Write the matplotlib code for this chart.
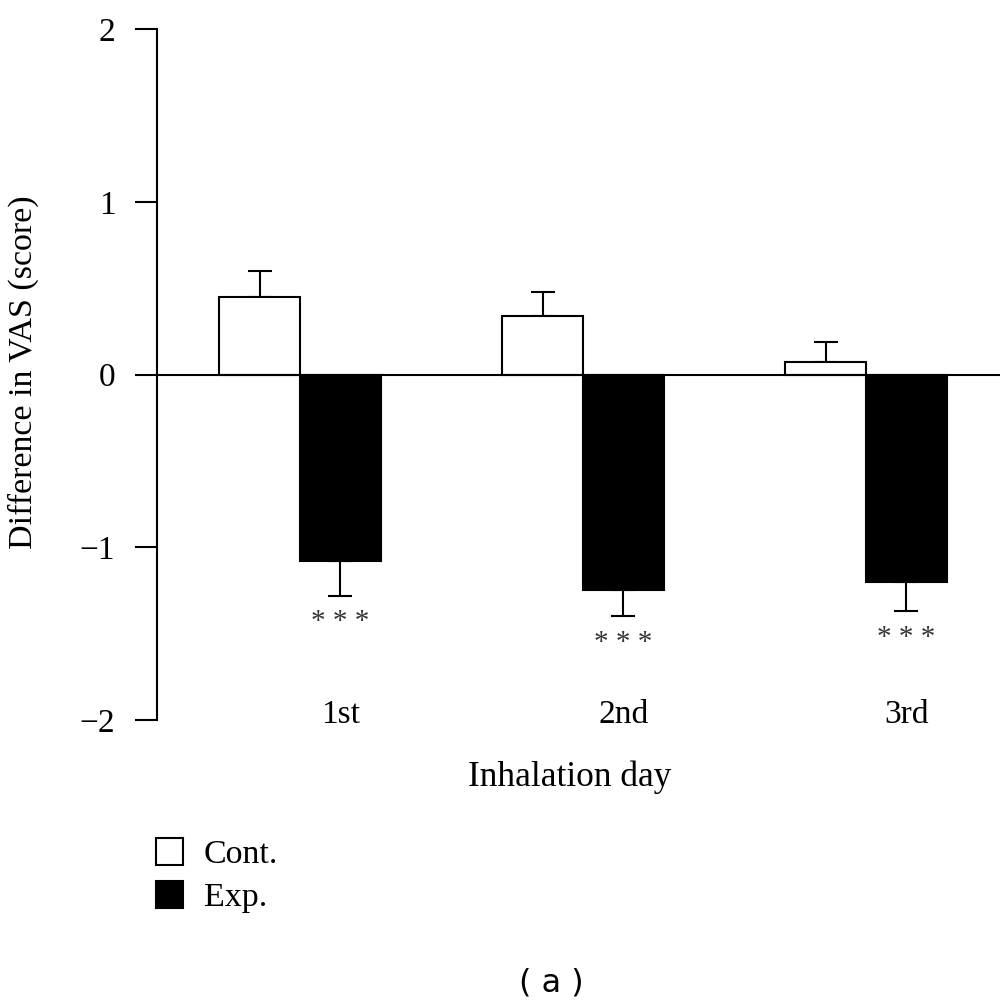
import matplotlib
matplotlib.use("Agg")
import matplotlib.pyplot as plt
from matplotlib.patches import Patch
import numpy as np

days = ["1st", "2nd", "3rd"]
cont_mean = [0.45, 0.34, 0.075]
cont_err = [0.15, 0.14, 0.115]
exp_mean = [-1.08, -1.25, -1.20]
exp_err = [0.20, 0.15, 0.17]
sig_labels = ["* * *", "* * *", "* * *"]
yticks = [-2, -1, 0, 1, 2]
legend_labels = ["Cont.", "Exp."]

plt.rcParams['font.family'] = ['Liberation Serif', 'DejaVu Serif']
plt.rcParams['axes.unicode_minus'] = True

fig = plt.figure(figsize=(10, 10.02), dpi=100)
ax = fig.add_axes([0.157, 1 - 720 / 1002, 0.843, (720 - 29) / 1002])

x = np.arange(len(days))
w = 0.285
lw = 1.5
ax.bar(x - w / 2, cont_mean, width=w, color="white", edgecolor="black", linewidth=lw, zorder=3)
ax.bar(x + w / 2, exp_mean, width=w, color="black", edgecolor="black", linewidth=lw, zorder=3)

ax.errorbar(x - w / 2, cont_mean, yerr=[np.zeros(3), cont_err], fmt="none",
            ecolor="black", elinewidth=lw, capsize=8.5, capthick=lw, zorder=2)
ax.errorbar(x + w / 2, exp_mean, yerr=[exp_err, np.zeros(3)], fmt="none",
            ecolor="black", elinewidth=lw, capsize=8.5, capthick=lw, zorder=2)

for xi, m, e, s in zip(x + w / 2, exp_mean, exp_err, sig_labels):
    ax.annotate(s, xy=(xi, m - e), xytext=(0, -19), textcoords="offset points",
                ha="center", va="center", fontsize=21, color="#333333")

ax.axhline(0, color="black", linewidth=lw, zorder=4)

ax.set_ylim(-2, 2)
ax.set_xlim(-0.505, 2.473)
ax.set_yticks(yticks)
ax.set_yticklabels([str(t).replace("-", "\u2212") for t in yticks])
ax.set_xticks(x + w / 2)
ax.set_xticklabels(days)

for sp in ["top", "right", "bottom"]:
    ax.spines[sp].set_visible(False)
ax.spines["left"].set_linewidth(lw)

ax.tick_params(axis="y", direction="out", length=16, width=lw, pad=14, labelsize=24)
ax.tick_params(axis="x", length=0, pad=-14.5, labelsize=24)
for lab in ax.get_xticklabels():
    lab.set_verticalalignment("top")

ax.set_xlabel("Inhalation day", fontsize=25.5, va="center")
ax.xaxis.set_label_coords(0.49, -0.0825)
ax.set_ylabel("Difference in VAS (score)", fontsize=24.5, va="center")
ax.yaxis.set_label_coords(-0.158, 0.504)

handles = [Patch(facecolor="white", edgecolor="black", linewidth=lw),
           Patch(facecolor="black", edgecolor="black", linewidth=lw)]
fig.legend(handles, legend_labels, loc="upper left", bbox_to_anchor=(0.156, 1 - 838 / 1002),
           frameon=False, fontsize=24.5, handlelength=0.8, handleheight=0.85,
           handletextpad=0.6, labelspacing=0.3, borderpad=0, borderaxespad=0)

fig.text(0.551, 1 - 983 / 1002, "( a )", family="DejaVu Sans", fontsize=23,
         ha="center", va="center")

fig.savefig("out.png", dpi=100, facecolor="white")
